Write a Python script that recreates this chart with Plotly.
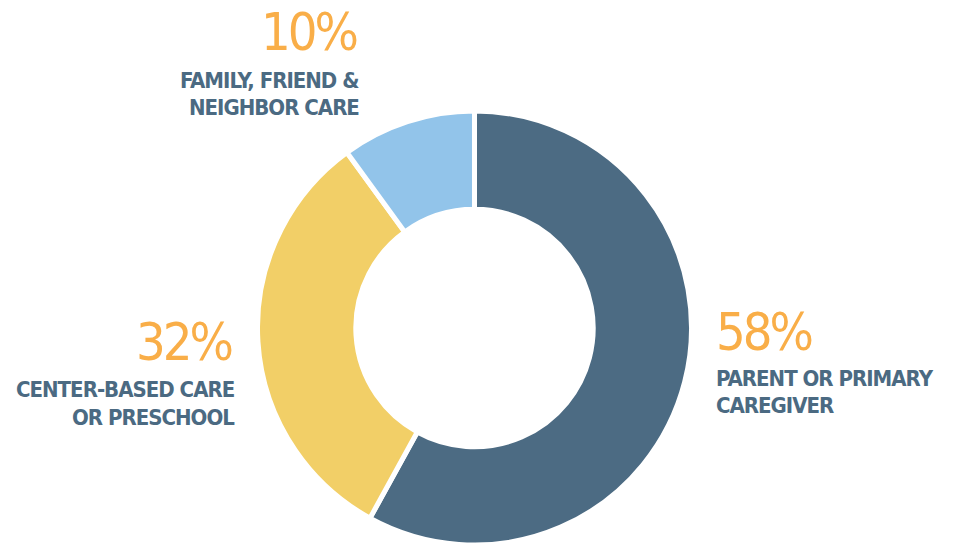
import plotly.graph_objects as go

W, H = 957, 545

categories = ["PARENT OR PRIMARY CAREGIVER", "CENTER-BASED CARE OR PRESCHOOL", "FAMILY, FRIEND & NEIGHBOR CARE"]
values = [58, 32, 10]
label_lines = [["PARENT OR PRIMARY", "CAREGIVER"],
               ["CENTER-BASED CARE", "OR PRESCHOOL"],
               ["FAMILY, FRIEND &", "NEIGHBOR CARE"]]
colors = ["#4C6B83", "#F2CF67", "#92C4EA"]

PCT_COLOR = "#F9AE48"
LABEL_COLOR = "#4B6A82"
FONT = "DejaVu Sans Condensed, Liberation Sans Narrow, sans-serif"

cx, r = 474.5, 217

fig = go.Figure(go.Pie(
    labels=categories, values=values, sort=False, direction="clockwise",
    rotation=0, hole=0.547, textinfo="none", hoverinfo="label+percent",
    marker=dict(colors=colors, line=dict(color="white", width=5)),
    domain=dict(x=[(cx - r) / W, (cx + r) / W], y=[0, (2 * r) / H]),
    showlegend=False,
))

# label layout: (pct x px, label x px, xanchor, pct center y, first line center y)
placements = [
    (714, 714, "left", 332, 378),
    (234, 237, "right", 342, 389.5),
    (359, 361, "right", 32, 80),
]
line_gap = 27.5

anns = []
for v, lines, (px_pct, px_lab, xa, py_pct, py_lab) in zip(values, label_lines, placements):
    anns.append(dict(x=px_pct / W, y=1 - py_pct / H, xref="paper", yref="paper",
                     text=f'<span style="letter-spacing:-3px">{v}%</span>', showarrow=False,
                     xanchor=xa, yanchor="middle",
                     font=dict(family=FONT, size=52, color=PCT_COLOR)))
    for i, ln in enumerate(lines):
        anns.append(dict(x=px_lab / W, y=1 - (py_lab + i * line_gap) / H,
                         xref="paper", yref="paper",
                         text=f'<span style="letter-spacing:-1px"><b>{ln}</b></span>', showarrow=False,
                         xanchor=xa, yanchor="middle",
                         font=dict(family=FONT, size=22, color=LABEL_COLOR)))

fig.update_layout(width=W, height=H, margin=dict(l=0, r=0, t=0, b=0),
                  paper_bgcolor="white", plot_bgcolor="white", annotations=anns)

fig.write_html("out.html")
